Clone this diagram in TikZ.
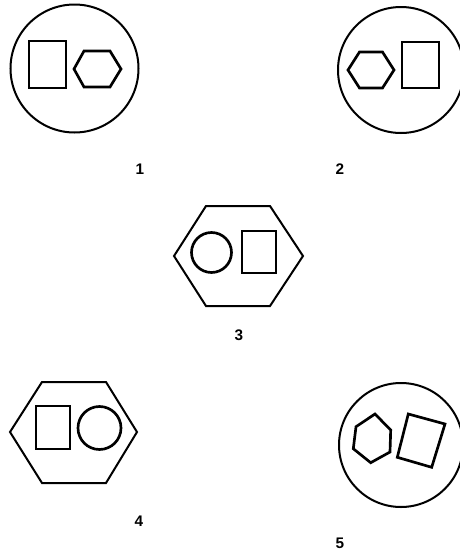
\documentclass[tikz,border=0pt]{standalone}
\usepackage{fontspec}
\setmainfont{Liberation Sans}
\begin{document}
\begin{tikzpicture}[
    x=0.75pt, y=-0.75pt,
    outer/.style={draw, line width=1.5pt},
    inner/.style={draw, line width=2pt, line join=miter},
    num/.style={font=\bfseries\fontsize{11.5}{13}\selectfont, inner sep=0pt}
]
    \useasboundingbox (0,0) rectangle (460,554);
    % figure 1
    \draw[outer] (74.5,68.5) circle[radius=64];
    \draw[inner] (29,41) rectangle (66,88);
    \draw[inner] (74,69) -- (84,51) -- (110,51) -- (121,69) -- (110,87) -- (84,87) -- cycle;
    \node[num] (lab1) at (140,169) {1};
    % figure 2
    \draw[outer] (401,70) circle[radius=63];
    \draw[inner] (348,70) -- (359.5,52) -- (382.5,52) -- (394,70) -- (382.5,88) -- (359.5,88) -- cycle;
    \draw[inner] (402,42) rectangle (439,88);
    \node[num] (lab2) at (340,169) {2};
    % figure 3
    \draw[outer] (174,256) -- (206,206) -- (270,206) -- (303,256) -- (270,306) -- (206,306) -- cycle;
    \draw[inner] (211.5,252.5) circle[radius=20];
    \draw[inner] (242,231) rectangle (276,273);
    \node[num] (lab3) at (239,335) {3};
    % figure 4
    \draw[outer] (10,432) -- (42,382) -- (106,382) -- (137,432) -- (106,483) -- (42,483) -- cycle;
    \draw[inner] (36,406) rectangle (70,449);
    \draw[inner] (99.5,428) circle[radius=21.5];
    \node[num] (lab4) at (139,521) {4};
    % figure 5
    \draw[outer] (401,445) circle[radius=62];
    \draw[inner] (375,414) -- (390.7,430) -- (390,452) -- (370.7,462.7) -- (353.3,448.7) -- (356,426.7) -- cycle;
    \draw[inner] (408.3,414) -- (445,424) -- (431.7,467.3) -- (397.3,457.3) -- cycle;
    \node[num] (lab5) at (340,543) {5};
\end{tikzpicture}
\end{document}
